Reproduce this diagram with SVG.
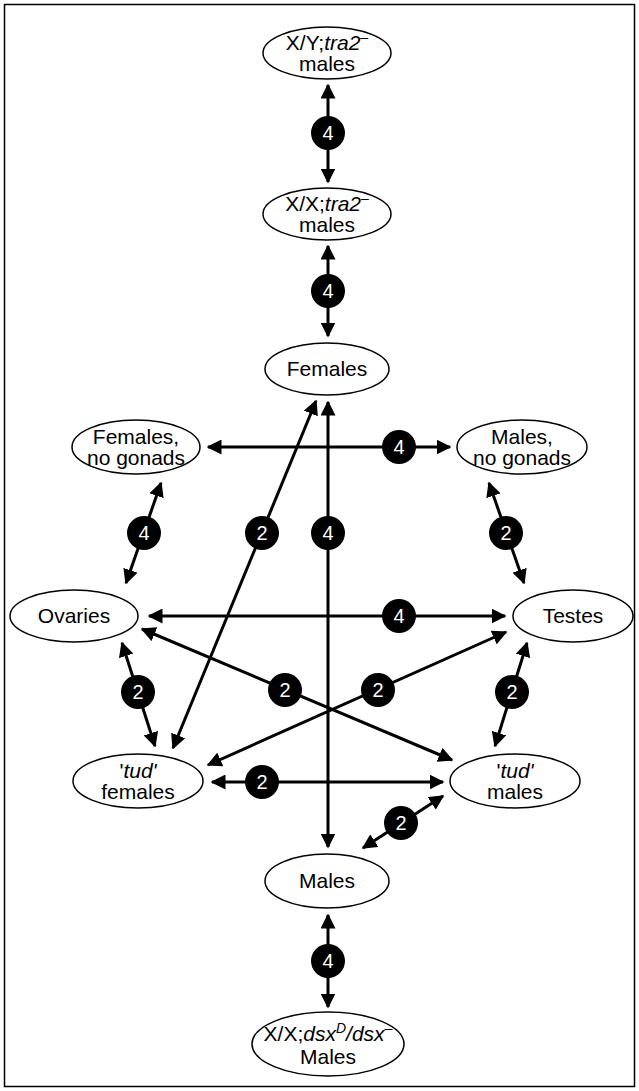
<svg xmlns="http://www.w3.org/2000/svg" width="639" height="1091" viewBox="0 0 639 1091">
<defs>
<style>
.n{fill:#fff;stroke:#000;stroke-width:1.5}
.t{font-family:"Liberation Sans",Arial,Helvetica,sans-serif;font-size:21px;fill:#000;text-anchor:middle}
.c{stroke:#000;stroke-width:3;fill:none;marker-start:url(#ah);marker-end:url(#ah)}
.b{fill:#000}
.bt{font-family:"Liberation Sans",Arial,Helvetica,sans-serif;font-size:20px;fill:#fff;text-anchor:middle}
.i{font-style:italic}
</style>
<marker id="ah" viewBox="0 0 10 10" refX="9" refY="5" markerWidth="15" markerHeight="15" markerUnits="userSpaceOnUse" orient="auto-start-reverse">
<path d="M0,0 L10,5 L0,10 z" fill="#000"/>
</marker>
</defs>
<rect x="4.5" y="4.5" width="630" height="1082" fill="#fff" stroke="#000" stroke-width="1.5"/>

<g id="connectors">
<line class="c" x1="328" y1="85" x2="328" y2="182"/>
<line class="c" x1="328" y1="246" x2="328" y2="336"/>
<line class="c" x1="328" y1="402" x2="328" y2="847"/>
<line class="c" x1="208" y1="447" x2="450" y2="447"/>
<line class="c" x1="149" y1="616" x2="505" y2="616"/>
<line class="c" x1="161" y1="483" x2="126" y2="583"/>
<line class="c" x1="489" y1="483" x2="524" y2="583"/>
<line class="c" x1="316" y1="401" x2="173" y2="748"/>
<line class="c" x1="122" y1="643" x2="155" y2="746"/>
<line class="c" x1="527" y1="643" x2="495" y2="746"/>
<line class="c" x1="142" y1="629" x2="452" y2="760"/>
<line class="c" x1="506" y1="632" x2="208" y2="765"/>
<line class="c" x1="212" y1="782" x2="443" y2="782"/>
<line class="c" x1="363" y1="848" x2="443" y2="796"/>
<line class="c" x1="328" y1="915" x2="328" y2="1007"/>
<g id="badges">
<circle class="b" cx="328" cy="133" r="17"/><text class="bt" x="328" y="140">4</text>
<circle class="b" cx="328" cy="291" r="17"/><text class="bt" x="328" y="298">4</text>
<circle class="b" cx="399" cy="447" r="17"/><text class="bt" x="399" y="454">4</text>
<circle class="b" cx="144" cy="533" r="17"/><text class="bt" x="144" y="540">4</text>
<circle class="b" cx="262" cy="533" r="17"/><text class="bt" x="262" y="540">2</text>
<circle class="b" cx="328" cy="533" r="17"/><text class="bt" x="328" y="540">4</text>
<circle class="b" cx="506" cy="533" r="17"/><text class="bt" x="506" y="540">2</text>
<circle class="b" cx="399" cy="616" r="17"/><text class="bt" x="399" y="623">4</text>
<circle class="b" cx="138" cy="692" r="17"/><text class="bt" x="138" y="699">2</text>
<circle class="b" cx="285" cy="690" r="17"/><text class="bt" x="285" y="697">2</text>
<circle class="b" cx="378" cy="690" r="17"/><text class="bt" x="378" y="697">2</text>
<circle class="b" cx="512" cy="692" r="17"/><text class="bt" x="512" y="699">2</text>
<circle class="b" cx="262" cy="782" r="17"/><text class="bt" x="262" y="789">2</text>
<circle class="b" cx="401" cy="823" r="17"/><text class="bt" x="401" y="830">2</text>
<circle class="b" cx="328" cy="961" r="17"/><text class="bt" x="328" y="968">4</text>
</g>
</g>

<g id="xy_tra2">
<ellipse class="n" cx="327" cy="53" rx="64" ry="26"/>
<text class="t" x="327" y="50">X/Y;<tspan class="i">tra2</tspan><tspan font-size="14" dy="-8">–</tspan></text>
<text class="t" x="327" y="71">males</text>
</g>
<g id="xx_tra2">
<ellipse class="n" cx="327" cy="214" rx="64" ry="26"/>
<text class="t" x="327" y="211">X/X;<tspan class="i">tra2</tspan><tspan font-size="14" dy="-8">–</tspan></text>
<text class="t" x="327" y="232">males</text>
</g>
<g id="females">
<ellipse class="n" cx="327" cy="369" rx="62" ry="26"/>
<text class="t" x="327" y="376">Females</text>
</g>
<g id="females_no_gonads">
<ellipse class="n" cx="136" cy="447" rx="64" ry="27"/>
<text class="t" x="136" y="444">Females,</text>
<text class="t" x="136" y="465">no gonads</text>
</g>
<g id="males_no_gonads">
<ellipse class="n" cx="522" cy="447" rx="65" ry="27"/>
<text class="t" x="522" y="444">Males,</text>
<text class="t" x="522" y="465">no gonads</text>
</g>
<g id="ovaries">
<ellipse class="n" cx="74" cy="616" rx="64" ry="26"/>
<text class="t" x="74" y="623">Ovaries</text>
</g>
<g id="testes">
<ellipse class="n" cx="573" cy="616" rx="60" ry="26"/>
<text class="t" x="573" y="623">Testes</text>
</g>
<g id="tud_females">
<ellipse class="n" cx="138" cy="781" rx="65" ry="27"/>
<text class="t" x="138" y="778">'<tspan class="i">tud'</tspan></text>
<text class="t" x="138" y="799">females</text>
</g>
<g id="tud_males">
<ellipse class="n" cx="515" cy="781" rx="65" ry="27"/>
<text class="t" x="515" y="778">'<tspan class="i">tud'</tspan></text>
<text class="t" x="515" y="799">males</text>
</g>
<g id="males">
<ellipse class="n" cx="327" cy="881" rx="62" ry="27"/>
<text class="t" x="327" y="888">Males</text>
</g>
<g id="xx_dsx">
<ellipse class="n" cx="328" cy="1044" rx="76" ry="32"/>
<text class="t" x="328" y="1041">X/X;<tspan class="i">dsx</tspan><tspan class="i" font-size="14" dy="-8">D</tspan><tspan class="i" dy="8">/dsx</tspan><tspan font-size="14" dy="-8">–</tspan></text>
<text class="t" x="328" y="1064">Males</text>
</g>
</svg>
